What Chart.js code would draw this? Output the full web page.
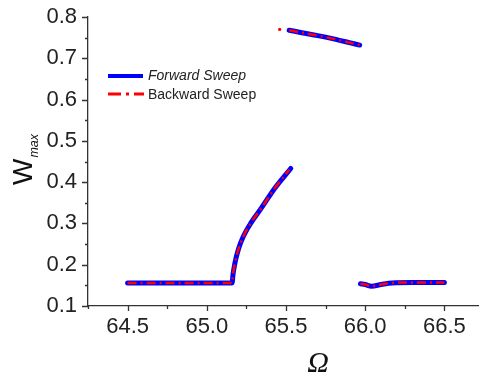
<!DOCTYPE html>
<html>
<head>
<meta charset="utf-8">
<script src="https://cdn.jsdelivr.net/npm/chart.js@4"></script>
<style>
  html, body { margin: 0; padding: 0; background: #fff; overflow: hidden; }
  #wrap { width: 485px; height: 377px; }
</style>
</head>
<body>
<div id="wrap"><canvas id="chart" width="485" height="377"></canvas></div>
<script>
// --- Data (null = break in the curve) ---
const forwardX = [64.5, 64.75, 65.0, 65.16, 65.165, 65.177, 65.2, 65.229, 65.28, 65.344, 65.427, 65.53,
                  null,
                  65.52, 65.6, 65.7, 65.8, 65.9, 65.965,
                  null,
                  65.97, 66.0, 66.04, 66.1, 66.17, 66.3, 66.5];
const forwardY = [0.156, 0.156, 0.156, 0.156, 0.175, 0.203, 0.238, 0.267, 0.302, 0.337, 0.384, 0.433,
                  null,
                  0.768, 0.762, 0.755, 0.747, 0.738, 0.732,
                  null,
                  0.154, 0.152, 0.148, 0.152, 0.156, 0.157, 0.157];

const backwardX = [64.5, 64.75, 65.0, 65.16, 65.165, 65.177, 65.2, 65.229, 65.28, 65.344, 65.427, 65.52,
                   null,
                   65.46,
                   null,
                   65.52, 65.6, 65.7, 65.8, 65.9, 65.965,
                   null,
                   65.97, 66.0, 66.04, 66.1, 66.17, 66.3, 66.5];
const backwardY = [0.156, 0.156, 0.156, 0.156, 0.175, 0.203, 0.238, 0.267, 0.302, 0.337, 0.384, 0.43,
                   null,
                   0.770,
                   null,
                   0.768, 0.762, 0.755, 0.747, 0.738, 0.732,
                   null,
                   0.154, 0.152, 0.148, 0.152, 0.156, 0.157, 0.157];

const xMin = 64.25, xMax = 66.75, xStep = 0.25;
const yMin = 0.1, yMax = 0.8, yStep = 0.05;

const seriesNames = ["Forward Sweep", "Backward Sweep"];
const FONT = "'Liberation Sans', Arial, sans-serif";

function toPoints(xs, ys) {
    return xs.map((x, i) => ({ x: x === null ? NaN : x, y: ys[i] }));
}

// Is v a multiple of step (within float noise)?
function isMajor(v, step) {
    const r = v / step;
    return Math.abs(r - Math.round(r)) < 1e-6;
}

// Draw a single dot where a point has gaps on both sides
function isolatedRadius(ctx) {
    const d = ctx.dataset.data;
    const i = ctx.dataIndex;
    const prev = d[i - 1], next = d[i + 1];
    const lonely = (!prev || prev.y === null) && (!next || next.y === null);
    return lonely ? 1.6 : 0;
}

// --- Custom drawing: tick marks, axis titles, legend ---
const extrasPlugin = {
    id: "extras",
    afterDraw(chart) {
        const c = chart.ctx;
        const xs = chart.scales.x, ys = chart.scales.y;
        const area = chart.chartArea;

        c.save();
        c.strokeStyle = "#333";
        c.lineWidth = 1.3;
        c.beginPath();
        xs.ticks.forEach(t => {
            const px = Math.round(xs.getPixelForValue(t.value)) + 0.5;
            const len = isMajor(t.value, 0.5) ? 5 : 3;
            c.moveTo(px, area.bottom);
            c.lineTo(px, area.bottom + len);
        });
        ys.ticks.forEach(t => {
            const py = Math.round(ys.getPixelForValue(t.value)) + 0.5;
            const len = isMajor(t.value, 0.1) ? 6 : 3;
            c.moveTo(area.left, py);
            c.lineTo(area.left - len, py);
        });
        c.stroke();

        // y title: W with subscript "max", rotated
        c.fillStyle = "#111";
        c.translate(32, 185);
        c.rotate(-Math.PI / 2);
        c.textAlign = "left";
        c.textBaseline = "alphabetic";
        c.font = "28px " + FONT;
        c.fillText("W", 0, 0);
        const wW = c.measureText("W").width;
        c.font = "italic 12.5px " + FONT;
        c.fillText("max", wW + 1, 6);
        c.restore();

        // x title: Omega
        c.save();
        c.fillStyle = "#111";
        c.font = "italic 30px 'Liberation Serif', 'Times New Roman', serif";
        c.textAlign = "center";
        c.textBaseline = "alphabetic";
        c.fillText("\u03A9", 318, 372);
        c.restore();

        // legend
        c.save();
        c.lineCap = "butt";
        c.strokeStyle = "#0000ff";
        c.lineWidth = 4;
        c.beginPath();
        c.moveTo(108, 76);
        c.lineTo(143, 76);
        c.stroke();
        c.strokeStyle = "#ff0000";
        c.lineWidth = 3;
        c.setLineDash([13, 5, 3, 5]);
        c.beginPath();
        c.moveTo(108, 94);
        c.lineTo(144, 94);
        c.stroke();
        c.setLineDash([]);
        c.fillStyle = "#222";
        c.textAlign = "left";
        c.textBaseline = "middle";
        c.font = "italic 14px " + FONT;
        c.fillText(seriesNames[0], 148, 76);
        c.font = "14px " + FONT;
        c.fillText(seriesNames[1], 148, 95);
        c.restore();
    }
};

const ctx = document.getElementById("chart").getContext("2d");

new Chart(ctx, {
    type: "line",
    data: {
        datasets: [
            {
                label: seriesNames[1],
                data: toPoints(backwardX, backwardY),
                borderColor: "#ff0000",
                backgroundColor: "#ff0000",
                borderWidth: 2.5,
                borderDash: [9, 4, 2, 4],
                pointRadius: isolatedRadius,
                pointHoverRadius: 0,
                pointBorderWidth: 0,
                cubicInterpolationMode: "monotone",
                spanGaps: false,
                order: 0
            },
            {
                label: seriesNames[0],
                data: toPoints(forwardX, forwardY),
                borderColor: "#0000ff",
                borderWidth: 5,
                borderCapStyle: "round",
                borderJoinStyle: "round",
                pointRadius: 0,
                cubicInterpolationMode: "monotone",
                spanGaps: false,
                order: 1
            }
        ]
    },
    options: {
        responsive: false,
        animation: false,
        layout: { padding: { top: 17, right: 1, left: 0, bottom: 0 } },
        plugins: {
            legend: { display: false },
            tooltip: { enabled: false }
        },
        scales: {
            x: {
                type: "linear",
                min: xMin,
                max: xMax,
                afterFit: s => { s.height = 71; s.paddingLeft = 0; s.paddingRight = 0; },
                grid: { display: false, drawTicks: false },
                border: { display: true, color: "#333", width: 1.3 },
                ticks: {
                    stepSize: xStep,
                    autoSkip: false,
                    maxRotation: 0,
                    padding: 8,
                    color: "#222",
                    font: { family: FONT, size: 22 },
                    callback: v => isMajor(v, 0.5) ? v.toFixed(1) : ""
                }
            },
            y: {
                type: "linear",
                min: yMin,
                max: yMax,
                afterFit: s => { s.width = 88; s.paddingTop = 0; s.paddingBottom = 0; },
                grid: { display: false, drawTicks: false },
                border: { display: true, color: "#333", width: 1.3 },
                ticks: {
                    stepSize: yStep,
                    autoSkip: false,
                    padding: 11,
                    color: "#222",
                    font: { family: FONT, size: 22 },
                    callback: v => isMajor(v, 0.1) ? v.toFixed(1) : ""
                }
            }
        }
    },
    plugins: [extrasPlugin]
});
</script>
</body>
</html>
